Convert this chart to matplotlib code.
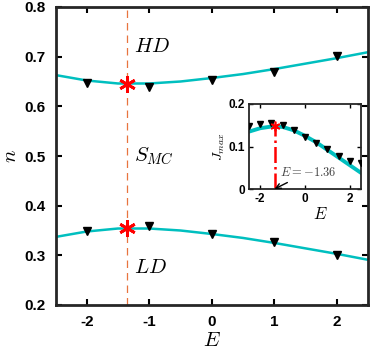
import matplotlib.pyplot as plt

plt.rcParams['mathtext.fontset'] = 'cm'
plt.rcParams['font.family'] = 'Liberation Sans'
plt.rcParams['font.weight'] = 'bold'

# dados
E_curva = [-2.5, -2.0, -1.5, -1.0, -0.5, 0.0, 0.5, 1.0, 1.5, 2.0, 2.5]
n_alto = [0.663, 0.652, 0.646, 0.646, 0.650, 0.657, 0.665, 0.675, 0.686, 0.697, 0.709]
n_baixo = [0.337, 0.348, 0.354, 0.354, 0.350, 0.343, 0.335, 0.325, 0.314, 0.303, 0.291]

E_sim = [-2, -1, 0, 1, 2]
n_alto_sim = [0.647, 0.639, 0.653, 0.669, 0.701]
n_baixo_sim = [0.348, 0.359, 0.343, 0.327, 0.300]

E_crit = -1.36
n_crit = [0.645, 0.355]

# inset: corrente maxima
J_curva = [0.135, 0.143, 0.147, 0.146, 0.138, 0.125, 0.110, 0.092, 0.074, 0.056, 0.038]
E_J_sim = [-2.5, -2.0, -1.5, -1.0, -0.5, 0.0, 0.5, 1.0, 1.5, 2.0, 2.5]
J_sim = [0.148, 0.152, 0.155, 0.151, 0.139, 0.123, 0.109, 0.094, 0.078, 0.067, 0.061]
J_crit = 0.148

ciano = '#00BFBF'

fig = plt.figure(figsize=(3.71, 3.6), dpi=100)
ax = fig.add_axes([55.5 / 371, 55 / 360, 312.5 / 371, 298 / 360])

ax.plot([E_crit, E_crit], [0.2, 0.8], color='#E8743F', lw=0.9, zorder=1,
        dashes=(6, 4))
ax.plot(E_curva, n_alto, color=ciano, lw=1.8, zorder=2)
ax.plot(E_curva, n_baixo, color=ciano, lw=1.8, zorder=2)
ax.plot(E_sim, n_alto_sim, 'v', color='k', ms=6, zorder=3)
ax.plot(E_sim, n_baixo_sim, 'v', color='k', ms=6, zorder=3)
ax.plot([E_crit, E_crit], n_crit, ls='none', marker=(6, 2, 0), color='red',
        ms=12, mew=2, zorder=4)

ax.text(-1.25, 0.72, '$HD$', fontsize=15, va='center')
ax.text(-1.25, 0.50, '$S_{MC}$', fontsize=15, va='center')
ax.text(-1.25, 0.275, '$LD$', fontsize=15, va='center')

ax.set_xlim(-2.5, 2.5)
ax.set_ylim(0.2, 0.8)
ax.set_xticks([-2, -1, 0, 1, 2])
ax.set_xticklabels(['-2', '-1', '0', '1', '2'])
ax.set_yticks([0.2, 0.3, 0.4, 0.5, 0.6, 0.7, 0.8])
ax.tick_params(direction='in', length=4, width=1.5, labelsize=11, top=True, right=True, pad=7)
for s in ax.spines.values():
    s.set_linewidth(2)
    s.set_color('#262626')
ax.set_xlabel('$E$', fontsize=15, labelpad=2)
ax.set_ylabel('$n$', fontsize=15, labelpad=3)

# inset
axi = fig.add_axes([249 / 371, 171 / 360, 112 / 371, 85 / 360])
axi.plot([E_crit, E_crit], [0, J_crit], '-.', color='red', lw=1.8, zorder=1)
axi.plot(E_curva, J_curva, color=ciano, lw=2.8, zorder=2)
axi.plot(E_J_sim, J_sim, 'v', color='k', ms=5, zorder=3)
axi.plot([E_crit], [J_crit], ls='none', marker=(6, 2, 0), color='red', ms=7, mew=1.2, zorder=4)
axi.annotate('$E=-1.36$', xy=(E_crit, 0), xytext=(-1.12, 0.04), fontsize=9,
             color='#444444', va='center',
             arrowprops=dict(arrowstyle='->', color='k', lw=1, shrinkA=2, shrinkB=0))
axi.set_xlim(-2.5, 2.5)
axi.set_ylim(0, 0.2)
axi.set_xticks([-2, 0, 2])
axi.set_xticklabels(['-2', '0', '2'])
axi.set_yticks([0, 0.1, 0.2])
axi.set_yticklabels(['0', '0.1', '0.2'])
axi.tick_params(direction='in', length=3, width=1, labelsize=8.5, top=True, right=True, pad=3)
for s in axi.spines.values():
    s.set_linewidth(1.3)
    s.set_color('#262626')
axi.set_xlabel('$E$', fontsize=12)
axi.xaxis.set_label_coords(0.64, -0.2)
axi.set_ylabel('$J_{max}$', fontsize=10, labelpad=1)

fig.savefig('out.png', dpi=100)
